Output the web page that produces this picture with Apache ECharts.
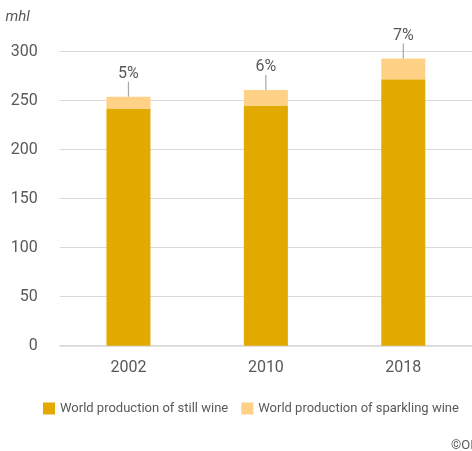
<!DOCTYPE html>
<html><head><meta charset="utf-8">
<script src="https://cdn.jsdelivr.net/npm/echarts@6/dist/echarts.min.js"></script>
<style>html,body{margin:0;padding:0;background:#fff}#c{width:472px;height:451px}</style>
</head><body><div id="c"></div>
<script>
const categories = ['2002', '2010', '2018'];
const stillWine = [242, 245, 272];
const sparklingWine = [12, 16, 21];
const shareLabels = ['5%', '6%', '7%'];
const yTicks = [0, 50, 100, 150, 200, 250, 300];

const FONT = "Roboto, sans-serif";
const chart = echarts.init(document.getElementById('c'));
chart.setOption({
  animation: false,
  textStyle: { fontFamily: FONT },
  grid: { left: 59.75, right: -3, top: 51.7, bottom: 105.3, containLabel: false },
  title: {
    text: '©OIV', left: 446, top: 434,
    textStyle: { fontFamily: FONT, fontSize: 13, fontWeight: 'normal', color: '#595959' }
  },
  legend: {
    left: 38, top: 397, width: 440, itemWidth: 12, itemHeight: 12, itemGap: 13,
    icon: 'rect',
    textStyle: { fontFamily: FONT, fontSize: 13, color: '#595959' },
    data: ['World production of still wine', 'World production of sparkling wine']
  },
  xAxis: {
    type: 'category', data: categories,
    axisLine: { lineStyle: { color: '#d9d9d9', width: 1.5 } },
    axisTick: { show: false },
    axisLabel: { fontFamily: FONT, fontSize: 16, color: '#595959', margin: 14 }
  },
  yAxis: {
    type: 'value', min: yTicks[0], max: yTicks[yTicks.length - 1], interval: 50,
    name: 'mhl', nameLocation: 'end', nameGap: 27,
    nameTextStyle: { fontFamily: FONT, fontSize: 15, fontStyle: 'italic', color: '#595959', align: 'right', padding: [0, 30, 0, 0] },
    axisLine: { show: false }, axisTick: { show: false },
    splitLine: { lineStyle: { color: '#d9d9d9', width: 1.2 } },
    axisLabel: { fontFamily: FONT, fontSize: 16, color: '#595959', margin: 22 }
  },
  series: [
    {
      name: 'World production of still wine', type: 'bar', stack: 'w',
      data: stillWine, barWidth: 44,
      itemStyle: { color: '#E2A900' }
    },
    {
      name: 'World production of sparkling wine', type: 'bar', stack: 'w',
      data: sparklingWine, barWidth: 44,
      itemStyle: { color: '#FFD186' },
      label: {
        show: true, position: 'top', distance: 2,
        fontFamily: FONT, fontSize: 16, color: '#595959',
        formatter: p => shareLabels[p.dataIndex]
      },
      labelLayout: { dy: -13 },
      labelLine: { show: true, lineStyle: { color: '#a6a6a6', width: 1.2 } }
    }
  ]
});
</script></body></html>
